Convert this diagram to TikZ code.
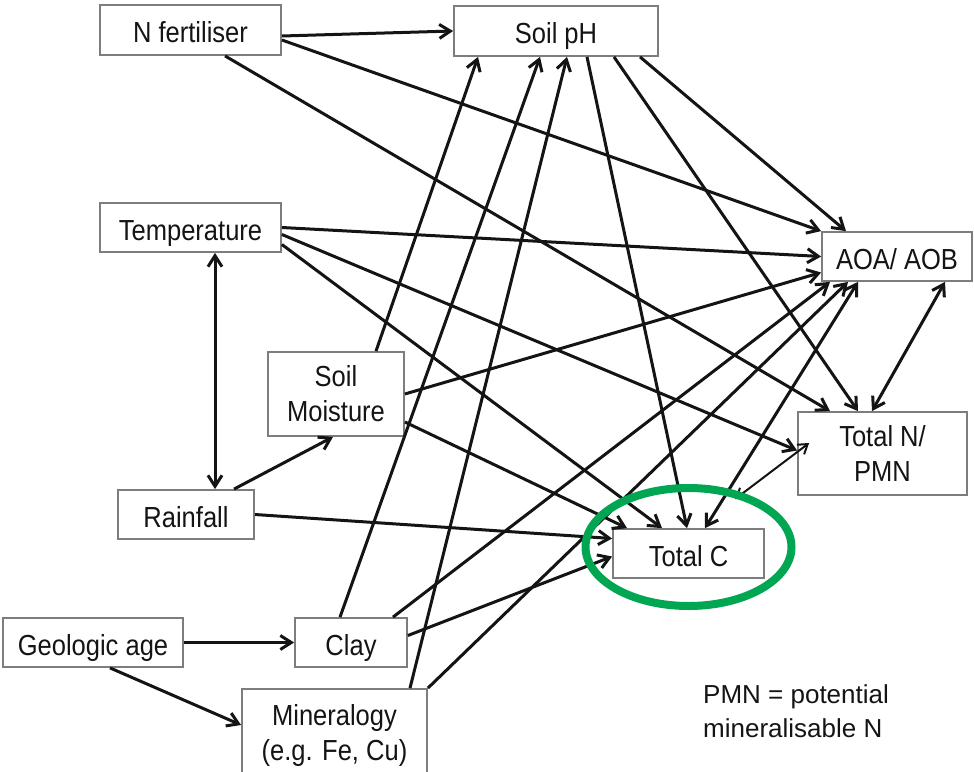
\documentclass[tikz,border=0pt]{standalone}
\usepackage{fontspec}
\setmainfont{Liberation Sans}[FakeStretch=0.88]
\newfontfamily\notefont{Liberation Sans}
\usepackage{xcolor}
\usetikzlibrary{arrows.meta,positioning,shapes.geometric}
\definecolor{circgreen}{RGB}{0,166,81}
\definecolor{boxgray}{RGB}{125,125,125}
\definecolor{inkblack}{RGB}{20,20,20}

\begin{document}
\begin{tikzpicture}[
  x=1pt,y=-1pt,
  font=\fontsize{29}{35}\selectfont,
  text=inkblack,
  box/.style={rectangle,draw=boxgray,line width=1.8pt,fill=white,text centered,
              align=center,inner sep=0pt},
  oneline/.style={text height=25pt,text depth=0pt},
  arr/.style={-{Straight Barb[length=11pt,width=14pt]},line width=3pt,draw=inkblack},
  darr/.style={{Straight Barb[length=11pt,width=14pt]}-{Straight Barb[length=11pt,width=14pt]},
               line width=3pt,draw=inkblack},
  tarr/.style={{Straight Barb[length=9pt,width=12pt]}-{Straight Barb[length=9pt,width=12pt]},
               line width=2pt,draw=inkblack}
]
\useasboundingbox (0,0) rectangle (974,771);

% boxes
\node[box,oneline,minimum width=181pt,minimum height=50pt] (nfert)  at (190.5,30)  {N fertiliser};
\node[box,oneline,minimum width=204pt,minimum height=50pt] (soilph) at (556,31)    {Soil pH};
\node[box,oneline,minimum width=181pt,minimum height=49pt] (temp)   at (190.5,227.5) {Temperature};
\node[box,minimum width=136pt,minimum height=84pt] (moist)  at (336,394)   {Soil\\Moisture};
\node[box,oneline,minimum width=136pt,minimum height=49pt] (rain)   at (186,514.5) {Rainfall};
\node[box,oneline,minimum width=180pt,minimum height=49pt] (geo)    at (93,642.5)  {Geologic age};
\node[box,oneline,minimum width=112pt,minimum height=49pt] (clay)   at (351,642.5) {Clay};
\node[box,minimum width=185pt,minimum height=92pt] (miner)  at (334.5,735) {Mineralogy\\(e.g. Fe, Cu)};
\node[box,oneline,minimum width=150pt,minimum height=49pt] (aoa)    at (897,256.5) {AOA/ AOB};
\node[box,minimum width=169pt,minimum height=83pt] (totn)   at (882.5,453.5) {Total N/\\PMN};
\node[box,oneline,minimum width=151pt,minimum height=49pt] (totc)   at (688.5,553.5) {Total C};

% links
\draw[arr] ([yshift=-6pt]nfert.east) -- (soilph.west);
\draw[arr] ([yshift=-10pt]nfert.east) -- (aoa.north west);
\draw[arr] ([xshift=34.5pt]nfert.south) -- ([xshift=-52.5pt]totn.north);
\draw[arr] (temp.east) -- (aoa.west);
\draw[arr] ([yshift=-7pt]temp.east) -- ([yshift=3pt]totn.west);
\draw[arr] ([yshift=-17pt]temp.east) -- ([xshift=-26.5pt]totc.north);
\draw[darr] ([xshift=24.5pt]temp.south) -- ([xshift=29pt]rain.north);
\draw[arr] ([xshift=48pt]rain.north) -- ([xshift=-3pt]moist.south);
\draw[arr] (rain.east) -- ([yshift=15pt]totc.west);
\draw[arr] ([xshift=40pt]moist.north) -- ([xshift=-78pt]soilph.south);
\draw[arr] (moist.east) -- ([yshift=-16pt]aoa.west);
\draw[arr] ([yshift=-28pt]moist.east) -- ([xshift=-61.5pt]totc.north);
\draw[arr] (geo.east) -- (clay.west);
\draw[arr] ([xshift=17pt]geo.south) -- ([yshift=10pt]miner.west);
\draw[arr] ([xshift=-11pt]clay.north) -- ([xshift=-16pt]soilph.south);
\draw[arr] ([xshift=42pt]clay.north) -- ([xshift=-67pt]aoa.south);
\draw[arr] ([yshift=7pt]clay.east) -- ([yshift=-3pt]totc.west);
\draw[arr] ([xshift=75.5pt]miner.north) -- ([xshift=11pt]soilph.south);
\draw[arr] (miner.north east) -- ([xshift=-49pt]aoa.south);
\draw[arr] ([xshift=31pt]soilph.south) -- ([xshift=-1.5pt]totc.north);
\draw[arr] ([xshift=58pt]soilph.south) -- ([xshift=-24.5pt]totn.north);
\draw[arr] ([xshift=84pt]soilph.south) -- ([xshift=-51pt]aoa.north);
\draw[darr] ([xshift=16.5pt]totc.north) -- ([xshift=-39pt]aoa.south);
\draw[darr] ([xshift=48pt]aoa.south) -- ([xshift=-10.5pt]totn.north);
\draw[tarr] ([xshift=46.5pt,yshift=29pt]totc.north) -- ([xshift=12pt,yshift=10.5pt]totn.west);

% highlight of Total C
\node[ellipse,draw=circgreen,line width=8pt,minimum width=206pt,minimum height=118pt,
      inner sep=0pt] (mark) at ([yshift=6.5pt]totc.center) {};

% note
\node[anchor=north west,align=left,inner sep=0pt,font=\notefont\fontsize{26}{34}\selectfont]
  (note) at (703,684.5) {PMN = potential\\mineralisable N};
\end{tikzpicture}
\end{document}
